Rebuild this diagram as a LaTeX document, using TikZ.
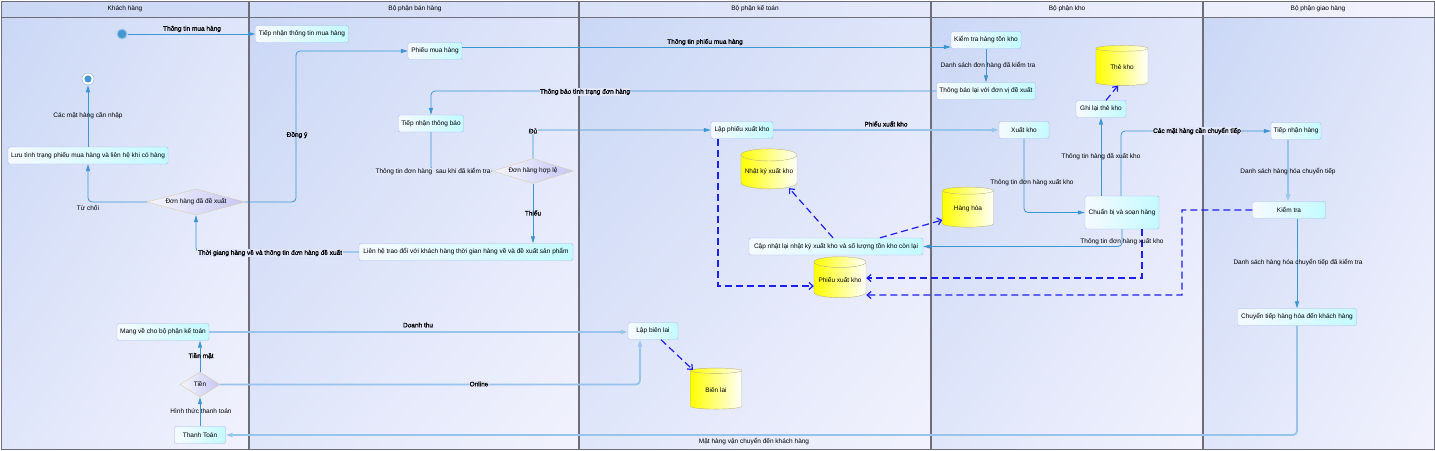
\documentclass[tikz,border=0pt]{standalone}
\usepackage{fontspec}
\setmainfont{Liberation Sans}
\newfontfamily\lblbold[FakeBold=1.2]{Liberation Sans}
\usepackage{tikz}
\usetikzlibrary{positioning, arrows.meta, shapes.geometric, calc, shadings}
\definecolor{lanetl}{RGB}{202,215,245}
\definecolor{lanemid}{RGB}{224,230,250}
\definecolor{lanebr}{RGB}{242,242,253}
\definecolor{laneline}{RGB}{110,110,120}
\definecolor{actborder}{RGB}{165,185,240}
\definecolor{actleft}{RGB}{246,250,255}
\definecolor{actright}{RGB}{195,250,255}
\definecolor{decborder}{RGB}{215,205,165}
\definecolor{decleft}{RGB}{246,246,255}
\definecolor{decright}{RGB}{198,198,245}
\definecolor{storeborder}{RGB}{185,180,120}
\definecolor{flowcolor}{RGB}{60,150,210}
\definecolor{flowlight}{RGB}{150,196,235}
\definecolor{datacolor}{RGB}{30,30,240}
\definecolor{startcolor}{RGB}{70,150,210}
\newcommand\dfont{\fontsize{6.5}{7.5}\selectfont}

\begin{document}
\begin{tikzpicture}[x=1pt, y=-1pt, font=\dfont,
    act/.style={draw=actborder, rounded corners=2pt, left color=actleft, right color=actright, minimum height=17pt, inner sep=1pt},
    dec/.style={diamond, draw=decborder, left color=decleft, right color=decright, inner sep=0pt},
    store/.style={cylinder, shape border rotate=90, aspect=0.25, draw=storeborder, left color=yellow, right color=white, inner sep=0pt},
    flow/.style={draw=flowcolor, line width=0.8pt, rounded corners=4pt, -{Triangle[length=7pt, width=4pt]}},
    flowl/.style={flow, draw=flowlight, line width=1.8pt},
    data/.style={draw=datacolor, line width=1.2pt, dash pattern=on 7pt off 4pt, -{Straight Barb[length=4pt, width=7pt]}},
    lbl/.style={inner sep=0.5pt},
    lblb/.style={lbl, font=\lblbold\dfont},
    lane/.style={upper left=lanetl, upper right=lanemid, lower left=lanemid, lower right=lanebr}]

    % Couloirs
    \useasboundingbox (0,0) rectangle (1435,450);
    \shade[lane] (1,17) rectangle (249,449);
    \shade[lane] (249,17) rectangle (579,449);
    \shade[lane] (579,17) rectangle (931,449);
    \shade[lane] (931,17) rectangle (1203,449);
    \shade[lane] (1203,17) rectangle (1434,449);
    \shade[left color=lanetl, right color=lanebr] (1,1) rectangle (1434,17);
    \draw[laneline, line width=0.8pt] (1,1) rectangle (1434,449);
    \draw[laneline, line width=0.8pt] (1,17) -- (1434,17);
    \draw[laneline, line width=1.2pt] (249,1) -- (249,449);
    \draw[laneline, line width=1.2pt] (579,1) -- (579,449);
    \draw[laneline, line width=1.2pt] (931,1) -- (931,449);
    \draw[laneline, line width=1.2pt] (1203,1) -- (1203,449);
    \node (hKhach) at (125,9) {Khách hàng};
    \node (hBan) at (415,9) {Bộ phận bán hàng};
    \node (hKeToan) at (755,9) {Bộ phận kế toán};
    \node (hKho) at (1067,9) {Bộ phận kho};
    \node (hGiao) at (1318,9) {Bộ phận giao hàng};

    % === Khách hàng ===
    \node[circle, minimum size=10pt, fill=startcolor, draw=startcolor!50, line width=1pt] (start) at (122,34) {};
    \node[circle, minimum size=12pt, fill=white, draw=startcolor!60, line width=0.5pt,
          path picture={\fill[startcolor] (path picture bounding box.center) circle (3.6pt);}] (stop) at (88,79) {};
    \node[act, minimum width=160pt] (luu) at (88,155.5) {Lưu tình trạng phiếu mua hàng và liên hệ khi có hàng};
    \node[dec, aspect=3.8, minimum width=98pt, minimum height=26pt] (dx) at (196,202) {Đơn hàng đã đề xuất};
    \node[act, minimum width=92pt] (mang) at (163,332) {Mang về cho bộ phận kế toán};
    \node[dec, aspect=1.6, minimum width=40pt, minimum height=25pt] (tien) at (200,384.5) {Tiền};
    \node[act, minimum width=51pt] (thanh) at (200,435) {Thanh Toán};

    % === Bộ phận bán hàng ===
    \node[act, minimum width=93pt] (tnmua) at (302,34) {Tiếp nhận thông tin mua hàng};
    \node[act, minimum width=54pt] (phieu) at (435,51) {Phiếu mua hàng};
    \node[act, minimum width=65pt] (tntb) at (431,123.5) {Tiếp nhận thông báo};
    \node[dec, aspect=3.2, minimum width=80pt, minimum height=25pt] (hople) at (533,171) {Đơn hàng hợp lệ};
    \node[act, minimum width=214pt] (lienhe) at (466,252) {Liên hệ trao đổi với khách hàng thời gian hàng về và đề xuất sản phẩm};

    % === Bộ phận kế toán ===
    \node[act, minimum width=62pt] (lapxk) at (742,130) {Lập phiếu xuất kho};
    \node[store, minimum width=56pt, minimum height=40pt] (nhatky) at (769,172) {Nhật ký xuất kho};
    \node[act, minimum width=174pt] (capnhat) at (836,246.5) {Cập nhật lại nhật ký xuất kho và số lượng tồn kho còn lại};
    \node[store, minimum width=52pt, minimum height=41pt] (pxk) at (840,280) {Phiếu xuất kho};
    \node[act, minimum width=50pt] (lapbl) at (653,331) {Lập biên lai};
    \node[store, minimum width=51pt, minimum height=41pt] (bienlai) at (716,390) {Biên lai};

    % === Bộ phận kho ===
    \node[act, minimum width=70pt] (ktton) at (986,40) {Kiểm tra hàng tồn kho};
    \node[act, minimum width=99pt] (tblai) at (986,91) {Thông báo lại với đơn vị đề xuất};
    \node[act, minimum width=50pt] (xuatkho) at (1024,130) {Xuất kho};
    \node[store, minimum width=52pt, minimum height=40pt] (thekho) at (1122,67) {Thẻ kho};
    \node[act, minimum width=50pt] (ghithe) at (1101,109) {Ghi lại thẻ kho};
    \node[store, minimum width=51pt, minimum height=40pt] (hanghoa) at (968,209) {Hàng hóa};
    \node[act, minimum width=74pt, minimum height=33pt] (chuanbi) at (1122,212.5) {Chuẩn bị và soạn hàng};

    % === Bộ phận giao hàng ===
    \node[act, minimum width=50pt] (tnhang) at (1296,131) {Tiếp nhận hàng};
    \node[act, minimum width=73pt] (kiemtra) at (1289,210) {Kiểm tra};
    \node[act, minimum width=119pt] (chuyentiep) at (1297,317) {Chuyển tiếp hàng hóa đến khách hàng};

    % Luồng
    \coordinate (y47) at (0,47);
    \draw[flow] (start) -- (tnmua.west);
    \draw[flow] (dx.east) -- (296,202) -- (296,51) -- (phieu.west);
    \draw[flow] (dx.west) -| (luu.south);
    \draw[flow] (luu.north) -- (stop.south);
    \draw[flow] (phieu.east |- y47) -- (ktton.west |- y47);
    \draw[flow] (ktton.south) -- (tblai.north);
    \draw[flow] (tblai.west) -| (tntb.north);
    \draw[flow] (tntb.south) |- (hople.west);
    \draw[flow] (hople.north) |- (lapxk.west);
    \draw[flow] (hople.south) -- (hople.south |- lienhe.north);
    \draw[flow] (lienhe.west) -| (dx.south);
    \draw[flowl] (lapxk.east) -- (xuatkho.west);
    \draw[flow] (xuatkho.south) |- (chuanbi.west);
    \draw[flow] (chuanbi.north -| ghithe.south) -- (ghithe.south);
    \draw[flow] ([xshift=-1pt]chuanbi.north) |- (tnhang.west);
    \draw[flow] (chuanbi.south) |- (capnhat.east);
    \draw[flowl] ([xshift=-8pt]tnhang.south) -- ([xshift=-8pt]tnhang.south |- kiemtra.north);
    \draw[flow] (chuyentiep.north |- kiemtra.south) -- (chuyentiep.north);
    \draw[flowl] (chuyentiep.south) |- (thanh.east);
    \draw[flow] (thanh.north) -- (tien.south);
    \draw[flow] (tien.north) -- (tien.north |- mang.south);
    \draw[flowl] (mang.east) -- (lapbl.west |- mang.east);
    \draw[flowl] (tien.east) -| ([xshift=-13pt]lapbl.south);

    % Dữ liệu
    \draw[data] ([xshift=-24pt]lapxk.south) |- ([yshift=-6pt]pxk.west);
    \draw[data] ([xshift=-3pt]capnhat.north) -- ($(nhatky.south)+(20,-1)$);
    \draw[data] ([xshift=44pt]capnhat.north) -- ($(hanghoa.west)+(0,11)$);
    \draw[data] ([xshift=20pt]chuanbi.south) |- ([yshift=2pt]pxk.east);
    \draw[data] (kiemtra.west) -- (1182,210) -- (1182,295) -- ($(pxk.east)+(0,15)$);
    \draw[data] ([xshift=8pt]lapbl.south) -- ($(bienlai.north)+(-23,2)$);
    \draw[data] ([xshift=5pt]ghithe.north) -- ($(thekho.south)+(-4,0)$);

    % Nhãn
    \node[lblb] (lMua) at (192,29) {Thông tin mua hàng};
    \node[lbl] (lNhap) at (88,116) {Các mặt hàng cần nhập};
    \node[lbl] (lTuChoi) at (88,208) {Từ chối};
    \node[lblb] (lDongY) at (297,135) {Đồng ý};
    \node[lblb, fill=lanemid] (lThoiGian) at (270,253) {Thời giang hàng về và thông tin đơn hàng đề xuất};
    \node[lblb] (lTienMat) at (201,356) {Tiền mặt};
    \node[lbl] (lHinhThuc) at (201,411) {Hình thức thanh toán};
    \node[lblb] (lPhieuMua) at (705,42) {Thông tin phiếu mua hàng};
    \node[lblb, fill=lanemid] (lTinhTrang) at (585,92) {Thông báo tình trạng đơn hàng};
    \node[lbl, fill=lanemid] (lSauKhi) at (433,172) {Thông tin đơn hàng \ sau khi đã kiểm tra};
    \node[lblb, fill=lanemid] (lDu) at (533,131) {Đủ};
    \node[lblb] (lThieu) at (533,213) {Thiếu};
    \node[lblb] (lPhieuXuat) at (886,124) {Phiếu xuất kho};
    \node[lblb] (lDoanhThu) at (418,325) {Doanh thu};
    \node[lblb, fill=lanemid] (lOnline) at (479,384) {Online};
    \node[lbl] (lVanChuyen) at (754,442) {Mặt hàng vận chuyển đến khách hàng};
    \node[lbl] (lDaKiem) at (988,66) {Danh sách đơn hàng đã kiểm tra};
    \node[lbl] (lDaXuat) at (1101,157) {Thông tin hàng đã xuất kho};
    \node[lbl] (lXuat1) at (1032,183) {Thông tin đơn hàng xuất kho};
    \node[lblb, fill=lanemid] (lChuyenTiep) at (1197,131) {Các mặt hàng cần chuyển tiếp};
    \node[lbl] (lXuat2) at (1122,242) {Thông tin đơn hàng xuất kho};
    \node[lbl] (lDsHang) at (1288,172) {Danh sách hàng hóa chuyển tiếp};
    \node[lbl] (lDsDaKiem) at (1298,263) {Danh sách hàng hóa chuyển tiếp đã kiểm tra};
\end{tikzpicture}
\end{document}
